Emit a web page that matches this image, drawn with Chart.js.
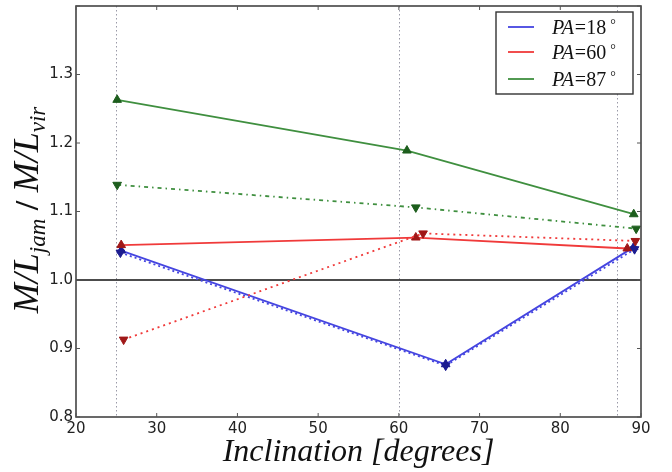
<!DOCTYPE html>
<html>
<head>
<meta charset="utf-8">
<script src="https://cdn.jsdelivr.net/npm/chart.js@4/dist/chart.umd.min.js"></script>
<style>
  html, body { margin: 0; padding: 0; background: #fff; }
</style>
</head>
<body>
<canvas id="mlChart" width="672" height="472"></canvas>
<script>
// values
const xTicks = [20, 30, 40, 50, 60, 70, 80, 90];
const yTicks = [0.8, 0.9, 1.0, 1.1, 1.2, 1.3, 1.4];
const guideIncl = [25, 60, 87];
const refLevel = 1.0;

const pa18Incl = [25.6, 65.8, 89.1];
const pa18Solid = [1.043, 0.877, 1.048];
const pa18DotIncl = [25.5, 65.8, 89.2];
const pa18Dot = [1.040, 0.875, 1.045];

const pa60Incl = [25.6, 62.1, 88.3];
const pa60Solid = [1.051, 1.062, 1.046];
const pa60DotIncl = [25.9, 63.0, 89.3];
const pa60Dot = [0.913, 1.068, 1.057];

const pa87Incl = [25.1, 61.0, 89.1];
const pa87Solid = [1.263, 1.189, 1.096];
const pa87DotIncl = [25.1, 62.1, 89.4];
const pa87Dot = [1.139, 1.106, 1.075];

const legendNames = ['18', '60', '87'];

const BLUE = '#4545e0', BLUE_DK = '#1c1c90';
const RED = '#f03a3a', RED_DK = '#a01818';
const GREEN = '#3f8f3f', GREEN_DK = '#1d5e1d';

const pts = (xs, ys) => xs.map((x, i) => ({ x: x, y: ys[i] }));

function series(xs, ys, color, mk, dash, up) {
  return {
    data: pts(xs, ys),
    borderColor: color,
    borderWidth: 1.8,
    borderDash: dash,
    pointStyle: 'triangle',
    rotation: up ? 0 : 180,
    pointRadius: 5,
    pointBackgroundColor: mk,
    pointBorderColor: mk,
    pointBorderWidth: 1,
    showLine: true,
    tension: 0,
  };
}

const datasets = [
  series(pa60DotIncl, pa60Dot, RED, RED_DK, [2, 4], false),
  series(pa87DotIncl, pa87Dot, GREEN, GREEN_DK, [4, 4, 1.5, 4], false),
  series(pa18DotIncl, pa18Dot, BLUE, BLUE_DK, [2, 3], false),
  series(pa87Incl, pa87Solid, GREEN, GREEN_DK, [], true),
  series(pa60Incl, pa60Solid, RED, RED_DK, [], true),
  series(pa18Incl, pa18Solid, BLUE, BLUE_DK, [], true),
];

const SERIF = '"Liberation Serif", "DejaVu Serif", serif';

const decor = {
  id: 'decor',
  beforeDatasetsDraw(chart) {
    const { ctx, chartArea: a, scales: { x, y } } = chart;
    ctx.save();
    // dotted guides
    ctx.strokeStyle = '#9a9aa8';
    ctx.lineWidth = 1;
    ctx.setLineDash([1.5, 2.5]);
    guideIncl.forEach(v => {
      const px = Math.round(x.getPixelForValue(v)) + 0.5;
      ctx.beginPath(); ctx.moveTo(px, a.top); ctx.lineTo(px, a.bottom); ctx.stroke();
    });
    ctx.setLineDash([]);
    // reference level
    ctx.strokeStyle = '#111';
    ctx.lineWidth = 1.5;
    const py = y.getPixelForValue(refLevel);
    ctx.beginPath(); ctx.moveTo(a.left, py); ctx.lineTo(a.right, py); ctx.stroke();
    ctx.restore();
  },
  afterDraw(chart) {
    const { ctx, chartArea: a, scales: { x, y } } = chart;
    ctx.save();
    // frame
    ctx.strokeStyle = '#444';
    ctx.lineWidth = 1.6;
    ctx.strokeRect(a.left, a.top, a.right - a.left, a.bottom - a.top);
    // inward ticks
    ctx.lineWidth = 1;
    ctx.strokeStyle = '#555';
    xTicks.forEach(v => {
      const px = x.getPixelForValue(v);
      ctx.beginPath();
      ctx.moveTo(px, a.bottom); ctx.lineTo(px, a.bottom - 4);
      ctx.moveTo(px, a.top); ctx.lineTo(px, a.top + 4);
      ctx.stroke();
    });
    yTicks.forEach(v => {
      const py = y.getPixelForValue(v);
      ctx.beginPath();
      ctx.moveTo(a.left, py); ctx.lineTo(a.left + 4, py);
      ctx.moveTo(a.right, py); ctx.lineTo(a.right - 4, py);
      ctx.stroke();
    });

    // legend
    const lx = 496, ly = 12, lw = 137, lh = 82;
    ctx.fillStyle = '#fff';
    ctx.fillRect(lx, ly, lw, lh);
    ctx.strokeStyle = '#333';
    ctx.lineWidth = 1.4;
    ctx.strokeRect(lx, ly, lw, lh);
    const colors = [BLUE, RED, GREEN];
    const rows = [27, 52, 79];
    rows.forEach((ry, i) => {
      ctx.strokeStyle = colors[i];
      ctx.lineWidth = 1.8;
      ctx.beginPath(); ctx.moveTo(508, ry); ctx.lineTo(534, ry); ctx.stroke();
      ctx.fillStyle = '#111';
      ctx.textBaseline = 'alphabetic';
      ctx.textAlign = 'left';
      let tx = 552;
      const base = ry + 7;
      ctx.font = 'italic 20px ' + SERIF;
      ctx.fillText('PA', tx, base); tx += ctx.measureText('PA').width + 1;
      ctx.font = '20px ' + SERIF;
      ctx.fillText('=' + legendNames[i], tx, base); tx += ctx.measureText('=' + legendNames[i]).width + 4;
      ctx.font = '14px ' + SERIF;
      ctx.fillText('\u00b0', tx, base - 5);
    });

    // x title
    ctx.fillStyle = '#111';
    ctx.font = 'italic 32px ' + SERIF;
    ctx.textAlign = 'center';
    ctx.textBaseline = 'alphabetic';
    ctx.fillText('Inclination [degrees]', (a.left + a.right) / 2, 461);

    // y title, rotated, with subscripts
    ctx.translate(38, 210);
    ctx.rotate(-Math.PI / 2);
    const main = 'italic 36px ' + SERIF, sub = 'italic 23px ' + SERIF, up = 'bold 34px ' + SERIF;
    const parts = [['M/L', main, 0], ['jam', sub, 7], [' / ', up, 0], ['M/L', main, 0], ['vir', sub, 7]];
    let total = 0;
    parts.forEach(p => { ctx.font = p[1]; total += ctx.measureText(p[0]).width; });
    let cx = -total / 2;
    ctx.textAlign = 'left';
    parts.forEach(p => {
      ctx.font = p[1];
      ctx.fillText(p[0], cx, p[2]);
      cx += ctx.measureText(p[0]).width;
    });
    ctx.restore();
  }
};

const tickFont = { family: '"DejaVu Sans", sans-serif', size: 15 };

new Chart(document.getElementById('mlChart'), {
  type: 'scatter',
  data: { datasets: datasets },
  options: {
    responsive: false,
    animation: false,
    layout: { padding: { top: 0, right: 31, left: 0, bottom: 0 } },
    plugins: { legend: { display: false }, tooltip: { enabled: false } },
    scales: {
      x: {
        type: 'linear',
        min: 20, max: 90,
        afterBuildTicks: s => { s.ticks = xTicks.map(v => ({ value: v })); },
        ticks: { font: tickFont, color: '#222', padding: 3, maxRotation: 0,
                 callback: v => String(v) },
        grid: { display: false, drawTicks: false },
        border: { display: false },
        afterFit: s => { s.height = 55; s.paddingLeft = 0; s.paddingRight = 0; },
      },
      y: {
        min: 0.8, max: 1.4,
        afterBuildTicks: s => { s.ticks = yTicks.map(v => ({ value: v })); },
        ticks: { font: tickFont, color: '#222', padding: 3,
                 callback: v => (Math.abs(v - 1.4) < 1e-6 ? '' : Number(v).toFixed(1)) },
        grid: { display: false, drawTicks: false },
        border: { display: false },
        afterFit: s => { s.width = 76; s.paddingTop = 0; s.paddingBottom = 0; },
      },
    },
  },
  plugins: [decor],
});
</script>
</body>
</html>
